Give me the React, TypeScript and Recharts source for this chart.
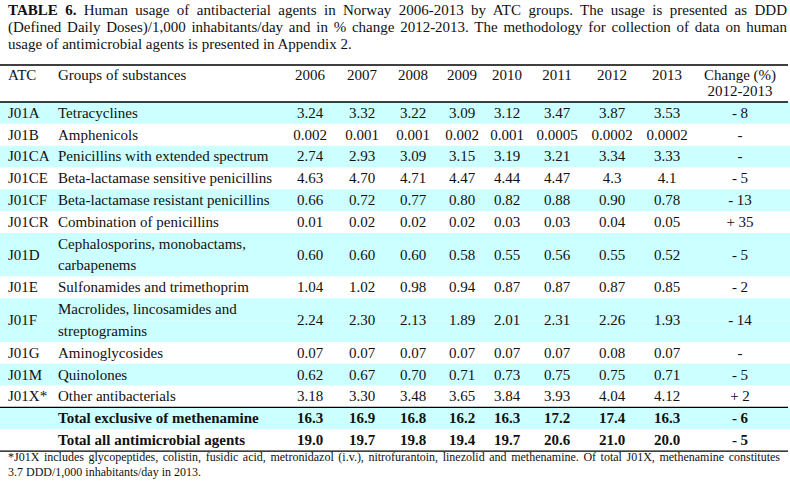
import React from 'react';
import { BarChart, Bar, XAxis, YAxis, Cell, LabelList } from 'recharts';

// table content
const years = ['2006', '2007', '2008', '2009', '2010', '2011', '2012', '2013'];

const atcCodes = ['J01A', 'J01B', 'J01CA', 'J01CE', 'J01CF', 'J01CR', 'J01D', 'J01E', 'J01F', 'J01G', 'J01M', 'J01X*', '', ''];

const groupNames = [
  'Tetracyclines',
  'Amphenicols',
  'Penicillins with extended spectrum',
  'Beta-lactamase sensitive penicillins',
  'Beta-lactamase resistant penicillins',
  'Combination of penicillins',
  'Cephalosporins, monobactams,\ncarbapenems',
  'Sulfonamides and trimethoprim',
  'Macrolides, lincosamides and\nstreptogramins',
  'Aminoglycosides',
  'Quinolones',
  'Other antibacterials',
  'Total exclusive of methenamine',
  'Total all antimicrobial agents',
];

const usage2006 = ['3.24', '0.002', '2.74', '4.63', '0.66', '0.01', '0.60', '1.04', '2.24', '0.07', '0.62', '3.18', '16.3', '19.0'];
const usage2007 = ['3.32', '0.001', '2.93', '4.70', '0.72', '0.02', '0.60', '1.02', '2.30', '0.07', '0.67', '3.30', '16.9', '19.7'];
const usage2008 = ['3.22', '0.001', '3.09', '4.71', '0.77', '0.02', '0.60', '0.98', '2.13', '0.07', '0.70', '3.48', '16.8', '19.8'];
const usage2009 = ['3.09', '0.002', '3.15', '4.47', '0.80', '0.02', '0.58', '0.94', '1.89', '0.07', '0.71', '3.65', '16.2', '19.4'];
const usage2010 = ['3.12', '0.001', '3.19', '4.44', '0.82', '0.03', '0.55', '0.87', '2.01', '0.07', '0.73', '3.84', '16.3', '19.7'];
const usage2011 = ['3.47', '0.0005', '3.21', '4.47', '0.88', '0.03', '0.56', '0.87', '2.31', '0.07', '0.75', '3.93', '17.2', '20.6'];
const usage2012 = ['3.87', '0.0002', '3.34', '4.3', '0.90', '0.04', '0.55', '0.87', '2.26', '0.08', '0.75', '4.04', '17.4', '21.0'];
const usage2013 = ['3.53', '0.0002', '3.33', '4.1', '0.78', '0.05', '0.52', '0.85', '1.93', '0.07', '0.71', '4.12', '16.3', '20.0'];

const change2012to2013 = ['- 8', '-', '-', '- 5', '- 13', '+ 35', '- 5', '- 2', '- 14', '-', '- 5', '+ 2', '- 6', '- 5'];

const usageByYear = [usage2006, usage2007, usage2008, usage2009, usage2010, usage2011, usage2012, usage2013];

// layout
const FONT = "'Liberation Serif', 'Times New Roman', serif";
const TEXT = '#111';
const STRIPE = '#ccffff';
const yearCenters = [310, 362, 413, 462, 507, 557, 612, 667];
const changeCenter = 740;
const atcX = 8;
const groupX = 58;
const boldRows = [12, 13];
const ruleAboveRows = [0, 12];

interface Line {
  key: string;
  row: number;
  part: number;
  parts: number;
  span: number;
}

// every row is split into text lines so that two-line rows get double height
const lines: Line[] = [];
groupNames.forEach((name, row) => {
  const parts = name.split('\n');
  parts.forEach((_, part) => lines.push({ key: `${row}-${part}`, row, part, parts: parts.length, span: 1 }));
});
const lineByKey: Record<string, Line> = Object.fromEntries(lines.map((l) => [l.key, l]));

const RowLabel = (props: any) => {
  const box = props.viewBox ?? props;
  const x = Number(box.x ?? props.x);
  const y = Number(box.y ?? props.y);
  const width = Number(box.width ?? props.width);
  const height = Number(box.height ?? props.height);
  const line = lineByKey[props.value];
  if (!line) return null;
  const { row, part, parts } = line;
  const weight = boldRows.includes(row) ? 'bold' : 'normal';
  const nameLine = groupNames[row].split('\n')[part];
  const rowCenter = parts === 1 ? y + height / 2 : y + height;
  const isLastRow = row === groupNames.length - 1 && part === parts - 1;
  return (
    <g fontFamily={FONT} fontSize={15} fill={TEXT} fontWeight={weight}>
      {part === 0 && ruleAboveRows.includes(row) && (
        <line x1={x} x2={x + width - 2} y1={y} y2={y} stroke="#000" strokeWidth={1.3} />
      )}
      {isLastRow && (
        <line x1={x} x2={x + width - 2} y1={y + height} y2={y + height} stroke="#000" strokeWidth={1.2} />
      )}
      <text x={groupX} y={y + height / 2 + 4.8}>{nameLine}</text>
      {part === 0 && (
        <>
          <text x={atcX} y={rowCenter + 4.8}>{atcCodes[row]}</text>
          {usageByYear.map((series, i) => (
            <text key={years[i]} x={yearCenters[i]} y={rowCenter + 4.8} textAnchor="middle">
              {series[row]}
            </text>
          ))}
          <text x={changeCenter} y={rowCenter + 4.8} textAnchor="middle">{change2012to2013[row]}</text>
        </>
      )}
    </g>
  );
};

export default function App() {
  return (
    <div style={{ position: 'absolute', left: 0, top: 0, width: 790, height: 483, background: '#fff', fontFamily: FONT, color: TEXT }}>
      <BarChart
        width={790}
        height={483}
        data={lines}
        layout="vertical"
        barCategoryGap={0}
        margin={{ top: 102, right: 0, bottom: 32, left: 0 }}
      >
        <XAxis type="number" domain={[0, 1]} hide />
        <YAxis type="category" dataKey="key" hide />
        <Bar dataKey="span" isAnimationActive={false}>
          {lines.map((l) => (
            <Cell key={l.key} fill={l.row % 2 === 0 ? STRIPE : '#ffffff'} />
          ))}
          <LabelList dataKey="key" content={RowLabel} />
        </Bar>
      </BarChart>

      {/* caption */}
      <div style={{ position: 'absolute', left: 8, top: 2, width: 779, fontSize: 15, lineHeight: '16.8px' }}>
        <div style={{ textAlign: 'justify', textAlignLast: 'justify' }}>
          <b>TABLE 6.</b> Human usage of antibacterial agents in Norway 2006-2013 by ATC groups. The usage is presented as DDD
        </div>
        <div style={{ textAlign: 'justify', textAlignLast: 'justify' }}>
          (Defined Daily Doses)/1,000 inhabitants/day and in % change 2012-2013. The methodology for collection of data on human
        </div>
        <div>usage of antimicrobial agents is presented in Appendix 2.</div>
      </div>

      {/* header */}
      <svg width={790} height={110} style={{ position: 'absolute', left: 0, top: 0 }}>
        <line x1={0} x2={788} y1={65} y2={65} stroke="#000" strokeWidth={1.3} />
        <g fontFamily={FONT} fontSize={15} fill={TEXT}>
          <text x={atcX} y={80}>ATC</text>
          <text x={groupX} y={80}>Groups of substances</text>
          {years.map((yr, i) => (
            <text key={yr} x={yearCenters[i]} y={80} textAnchor="middle">{yr}</text>
          ))}
          <text x={changeCenter} y={80} textAnchor="middle">Change (%)</text>
          <text x={changeCenter} y={96} textAnchor="middle">2012-2013</text>
        </g>
      </svg>

      {/* footnote */}
      <div style={{ position: 'absolute', left: 8, top: 450, width: 772, fontSize: 12, lineHeight: '15px' }}>
        <div style={{ textAlign: 'justify', textAlignLast: 'justify' }}>
          *J01X includes glycopeptides, colistin, fusidic acid, metronidazol (i.v.), nitrofurantoin, linezolid and methenamine. Of total J01X, methenamine constitutes
        </div>
        <div>3.7 DDD/1,000 inhabitants/day in 2013.</div>
      </div>
    </div>
  );
}
